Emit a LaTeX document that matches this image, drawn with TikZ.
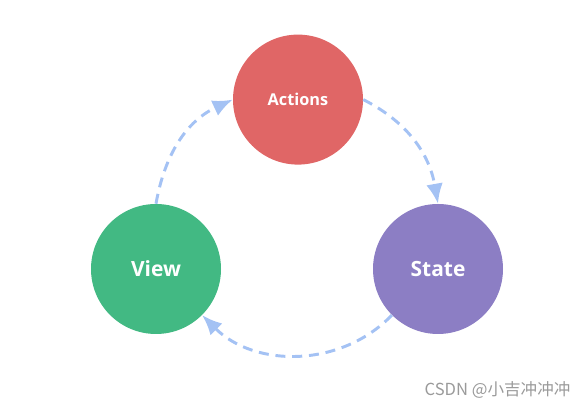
\documentclass[tikz,border=0pt]{standalone}
\usepackage{fontspec}
\setmainfont{Open Sans}
\newfontfamily\cjk{Noto Sans CJK SC}
\usetikzlibrary{arrows.meta}
\definecolor{cacc}{HTML}{E06666}
\definecolor{cvis}{HTML}{42B983}
\definecolor{cest}{HTML}{8C7EC4}
\definecolor{cflecha}{HTML}{A4C2F4}
\definecolor{cmarca}{HTML}{9A9A9A}
\tikzset{
  circulo/.style={circle,minimum size=3.25cm,inner sep=0pt,text=white,
                  font=\bfseries\fontsize{14.9}{16}\selectfont},
  circuloa/.style={circulo,fill=cacc,font=\bfseries\fontsize{11.6}{13}\selectfont},
  circulov/.style={circulo,fill=cvis},
  circuloe/.style={circulo,fill=cest},
  flecha/.style={-{Latex[length=5mm,width=4.2mm]},draw=cflecha,
                 line width=2.1pt,dash pattern=on 2.5mm off 1.7mm},
  marca/.style={font=\cjk\fontsize{11.8}{13}\selectfont,text=cmarca,inner sep=0pt},
}
\begin{document}
\begin{tikzpicture}[x=1cm,y=1cm]
\useasboundingbox (0,0) rectangle (14.625,10.2);

\node[circuloa] (acc) at (7.45,7.71) {Actions};
\node[circulov] (vis) at (3.9,3.475) {View};
\node[circuloe] (est) at (10.95,3.475) {State};
\node[marca] (csdn) at (12.44,0.45) {CSDN @小吉冲冲冲};

\draw[flecha] (vis.north) to[out=80,in=205] (acc.west);
\draw[flecha] (acc.east) to[out=-27,in=100] (est.north);
\draw[flecha] (est.225) to[out=226,in=-45] (vis.-45);

\end{tikzpicture}
\end{document}
